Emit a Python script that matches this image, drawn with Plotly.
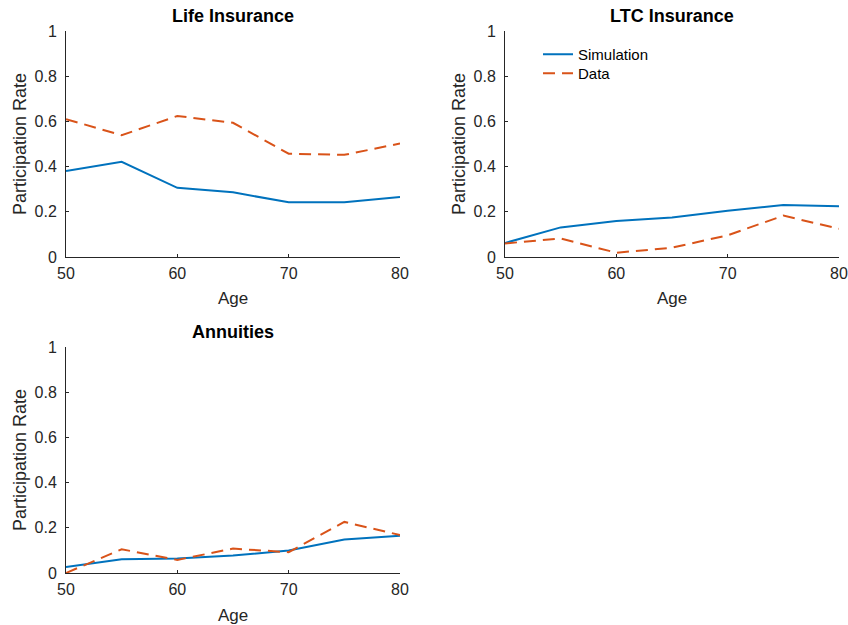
import plotly.graph_objects as go

# Ages at which participation is measured
ages = [50, 55, 60, 65, 70, 75, 80]

# Life insurance participation
life_sim = [0.380, 0.421, 0.306, 0.286, 0.242, 0.242, 0.265]
life_data = [0.610, 0.539, 0.624, 0.594, 0.457, 0.452, 0.502]

# Long-term care insurance participation
ltc_sim = [0.062, 0.131, 0.159, 0.175, 0.205, 0.230, 0.225]
ltc_data = [0.060, 0.082, 0.019, 0.041, 0.096, 0.183, 0.125]

# Annuity participation
ann_sim = [0.027, 0.061, 0.064, 0.077, 0.100, 0.148, 0.165]
ann_data = [0.000, 0.105, 0.058, 0.108, 0.092, 0.226, 0.168]

panel_titles = ["Life Insurance", "LTC Insurance", "Annuities"]
x_ticks = [50, 60, 70, 80]
y_ticks = [0, 0.2, 0.4, 0.6, 0.8, 1]
y_tick_text = ["0", "0.2", "0.4", "0.6", "0.8", "1"]

BLUE = "#0072BD"
ORANGE = "#D95319"
INK = "#262626"
FONT = "Liberation Sans, Arial, Helvetica, sans-serif"

W, H = 848, 625

# Panel boxes in pixels: (left, right, top, bottom)
boxes = [(66, 400, 31, 257), (505, 839, 31, 257), (66, 400, 347, 573)]

fig = go.Figure()

series = [(life_sim, life_data), (ltc_sim, ltc_data), (ann_sim, ann_data)]
for i, (sim, dat) in enumerate(series):
    suffix = "" if i == 0 else str(i + 1)
    fig.add_trace(go.Scatter(
        x=ages, y=sim, mode="lines", name="Simulation",
        line=dict(color=BLUE, width=2),
        xaxis="x" + suffix, yaxis="y" + suffix,
        showlegend=(i == 1), legend="legend",
    ))
    fig.add_trace(go.Scatter(
        x=ages, y=dat, mode="lines", name="Data",
        line=dict(color=ORANGE, width=2, dash="12px,7px"),
        xaxis="x" + suffix, yaxis="y" + suffix,
        showlegend=(i == 1), legend="legend2",
    ))

legend_common = dict(
    xanchor="left", yanchor="top",
    bgcolor="rgba(0,0,0,0)", borderwidth=0,
    font=dict(size=15, color="black", family=FONT),
)

layout = dict(
    width=W, height=H,
    margin=dict(l=0, r=0, t=0, b=0, autoexpand=False),
    paper_bgcolor="white", plot_bgcolor="white",
    font=dict(family=FONT, color=INK, size=15),
    showlegend=True,
    legend=dict(legend_common, x=538 / W, y=1 - 38 / H),
    legend2=dict(legend_common, x=538 / W, y=1 - 57 / H),
)

annotations = []
for i, (l, r, t, b) in enumerate(boxes):
    suffix = "" if i == 0 else str(i + 1)
    axis_common = dict(
        showline=True, linecolor=INK, linewidth=1, mirror=False,
        showgrid=False, zeroline=False, automargin=False,
        ticks="inside", ticklen=3, tickwidth=1, tickcolor=INK,
        tickfont=dict(size=16, color=INK, family=FONT),
    )
    layout["xaxis" + suffix] = dict(
        axis_common, domain=[l / W, r / W], range=[50, 80],
        tickvals=x_ticks, anchor="y" + suffix, ticklabelstandoff=2,
    )
    layout["yaxis" + suffix] = dict(
        axis_common, domain=[1 - b / H, 1 - t / H], range=[0, 1],
        tickvals=y_ticks, ticktext=y_tick_text, anchor="x" + suffix,
        ticklabelstandoff=5,
    )
    cx = (l + r) / 2
    # panel title
    annotations.append(dict(
        text="<b>" + panel_titles[i] + "</b>", xref="paper", yref="paper",
        x=cx / W, y=1 - (t - 15) / H, xanchor="center", yanchor="middle",
        showarrow=False, font=dict(size=18, color="black", family=FONT),
    ))
    # x axis label
    annotations.append(dict(
        text="Age", xref="paper", yref="paper",
        x=cx / W, y=1 - (b + 42) / H, xanchor="center", yanchor="middle",
        showarrow=False, font=dict(size=17, color=INK, family=FONT),
    ))
    # y axis label
    annotations.append(dict(
        text="Participation Rate", xref="paper", yref="paper",
        x=(l - 46) / W, y=1 - ((t + b) / 2) / H, xanchor="center",
        yanchor="middle", textangle=-90,
        showarrow=False, font=dict(size=18, color=INK, family=FONT),
    ))

layout["annotations"] = annotations
fig.update_layout(**layout)

fig.write_html("out.html")
